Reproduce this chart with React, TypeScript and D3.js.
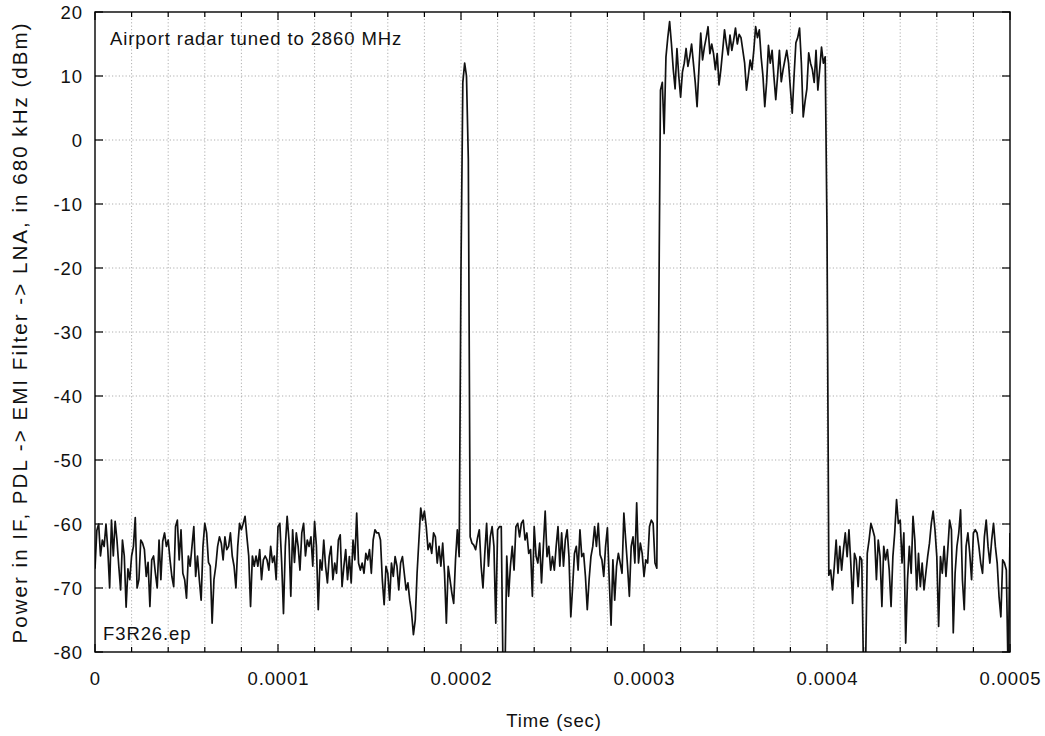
import React from "react";
import * as d3 from "d3";

// ---- data (dBm), one sample per microsecond ----
const SAMPLE_STEP = 1e-6;

const noiseBeforePulse = [
  -67, -61, -60, -65, -62.5, -63.5, -60, -64, -70, -59.4,
  -65, -59.6, -62.5, -66.6, -70.3, -62.5, -65, -73, -67, -68.7,
  -65, -63.5, -59, -70, -68.7, -62.5, -63, -64, -68.2, -66,
  -72.9, -65.6, -65, -67.7, -70, -62.5, -68.7, -62.7, -61.4, -63.5,
  -62.5, -65.6, -68.2, -69.8, -60.4, -59.4, -65.6, -60.9, -67.7, -68.7,
  -71.6, -65, -66.6, -63.5, -60.4, -68.2, -65, -68.7, -71.9, -63.5,
  -59.9, -61.4, -66, -66.6, -75.5, -68.7, -66.6, -63.5, -62, -63,
  -65.6, -62, -64, -63.5, -61.4, -65, -66.6, -70, -63.5, -59.9,
  -60.9, -59.9, -58.8, -62, -65, -72.9, -65, -66.6, -65, -66.6,
  -64, -68.7, -65.6, -65, -65.6, -67.2, -63.5, -66, -65, -68.7,
  -60.4, -59.9, -66, -74, -63.5, -58.8, -62.5, -71.3, -60.9, -66,
  -61.4, -63.5, -67.2, -61.4, -59.9, -65,
  -62.5, -63.5, -62, -66.6, -59.6, -63.5, -73.4, -65.6, -67.2, -62.5,
  -66.6, -69.2, -65.1, -63.5, -68.7, -66.1, -67.7, -62.5, -61.7, -69.8,
  -66.6, -64, -68.7, -65.1, -69.2, -62.5, -65.6, -58.3, -66.1, -67.2,
  -66.1, -67.7, -64.6, -65.6, -64, -67.7, -62.5, -60.9, -61.4, -61.4,
  -62.5, -68.7, -72.6, -66.6, -67.7, -71.9, -66.1, -68.2, -65.1, -66.6,
  -70.3, -66.1, -65.1, -67.7, -70.3, -69.2, -71.9, -73.9, -77.3, -75,
  -67.7, -62.5, -57.5, -59.4, -58, -60.4, -64, -63, -64.6, -61.4,
  -62, -66.1, -63.5, -66.6, -63, -67.7, -75.5, -66.6, -68.7, -70.8,
  -72.4, -65.6, -60.9, -65.1,
];

const shortPulse = [-20, 9, 12, 10, -3];

const noiseBetweenPulses = [
  -62,
  -63, -63.3, -64, -62.2, -60.9, -66.6, -70, -64.6, -59.9, -66.6,
  -62, -60.4, -63.5, -75.5, -60.9, -60.4, -60.4, -84, -84, -65,
  -71.3, -66.6, -63.5, -67.2, -60.4, -59.9, -62, -59.9, -59.4, -62.5,
  -61.4, -64.6, -64, -71.3, -60.4, -65, -66.1,
  -63, -69.2, -63.5, -58, -65.1, -63.5, -67.2, -65.1, -67.2, -63.5,
  -60.4, -66.6, -61.4, -66.6, -62.5, -60.9, -65.1, -74.5, -69.8, -64.6,
  -63.5, -67.2, -60.9, -65.1, -64.6, -68.2, -73.4, -68.7, -65.1, -63.5,
  -60.4, -63.5, -59.9, -64.8, -65.6, -68.2, -63.5, -60.6, -68.7, -75.8,
  -65.6, -71.9, -66.6, -64.6, -66.1, -67.7, -58.3, -62.5, -66.6, -71.3,
  -63.5, -62, -66.1, -56.7, -66.1, -63, -64.6, -68.2, -65.6, -66.1,
  -60.4, -59.4, -59.9, -66.1, -66.9,
];

const risingEdge = [-30, 7.8, 9, 1];

const longPulse = [
  13, 16, 18.5, 15, 11, 8, 14.3, 10, 6.7, 10.6,
  12, 14.3, 11.5, 13, 15, 12, 9, 5.2, 11, 16.7,
  12.5, 14.5, 16, 17.7, 13.5, 15, 13.5, 11, 13.5, 8.6,
  11, 14, 17.2, 15, 13.3, 16.4, 14, 15.6, 17.5, 15,
  16.5, 16, 14, 12, 7.8, 10, 12.5, 11, 14, 17.7,
  16, 17.2, 13, 10, 5.2, 9, 14.8, 12, 14, 9.9,
  6.3, 10, 14, 9.1, 11, 12.5, 14, 12, 8, 4.2,
  10, 15.2, 16, 17.5, 12, 3.6, 6, 8, 13.6, 12,
  11, 9, 14, 7.8, 11, 14.5, 12, 13,
];

const fallingEdge = [-14, -68];

const noiseAfterPulse = [
  -67.2, -70.3, -66.6, -62.5, -67.7, -63.5, -67.2, -64, -61.4, -65.1,
  -60.9, -66.1, -72.4, -64.6, -65.6, -69.8, -65.1, -65.6, -84, -84,
  -64.6, -62.5, -59.9, -60.9, -62, -68.7, -62.5, -65.1, -72.9, -63.5,
  -65.6, -64, -67.2, -72.9, -65.1, -61.4, -56.2, -59.9, -59.4, -66.1,
  -61.4, -78.6, -68.7, -63.5, -67.7, -58.8, -62.5, -70.3, -64.6, -69.8,
  -66.1, -70.3, -67.7, -65.1, -63, -59.9, -58, -60.9, -65.1, -76,
  -65.1, -67.7, -63.5, -68.2, -64, -59.4, -60.9, -77, -67.7, -63.5,
  -61.4, -57.8, -68.7, -73.4, -63.5, -61.4, -64.6, -68.7, -61.4, -60.9,
  -61.4, -63.5, -66.1, -67.7, -62, -59.4, -63.5, -66.1, -62.5, -59.9,
  -63.5, -66.1, -71.3, -74.5, -65.6, -66.1, -67.2, -84, -61.4,
];

const xTickLabels = ["0", "0.0001", "0.0002", "0.0003", "0.0004", "0.0005"];
const yTickValues = [20, 10, 0, -10, -20, -30, -40, -50, -60, -70, -80];

const TITLE = "Airport radar tuned to 2860 MHz";
const FILE_LABEL = "F3R26.ep";
const X_LABEL = "Time (sec)";
const Y_LABEL = "Power in IF, PDL -> EMI Filter -> LNA, in 680 kHz (dBm)";

const power = [
  ...noiseBeforePulse,
  ...shortPulse,
  ...noiseBetweenPulses,
  ...risingEdge,
  ...longPulse,
  ...fallingEdge,
  ...noiseAfterPulse,
];

const W = 1045;
const H = 736;
const M = { left: 95, right: 1010, top: 12, bottom: 652 };
const FONT = "'Liberation Sans', Arial, Helvetica, sans-serif";
const LS = 0.9;

export default function App() {
  const x = d3.scaleLinear().domain([0, 0.0005]).range([M.left, M.right]);
  const y = d3.scaleLinear().domain([-80, 20]).range([M.bottom, M.top]);

  const minorX = d3.range(0, 26).map((i) => i * 0.00002);
  const majorX = xTickLabels.map((s) => +s);

  const line = d3
    .line<number>()
    .x((_, i) => x(i * SAMPLE_STEP))
    .y((d) => y(d));

  return (
    <svg
      width={W}
      height={H}
      style={{ position: "absolute", left: 0, top: 0, background: "#fff" }}
      fontFamily={FONT}
    >
      <defs>
        <clipPath id="plotClip">
          <rect x={M.left} y={M.top} width={M.right - M.left} height={M.bottom - M.top} />
        </clipPath>
      </defs>
      <rect x={0} y={0} width={W} height={H} fill="#fff" />
      {/* grid */}
      <g stroke="#9a9a9a" strokeWidth={0.8} strokeDasharray="1.2,2.2">
        {minorX.slice(1, -1).map((t, i) => (
          <line key={"gx" + i} x1={x(t)} x2={x(t)} y1={M.top} y2={M.bottom} />
        ))}
        {yTickValues.slice(1, -1).map((v) => (
          <line key={"gy" + v} x1={M.left} x2={M.right} y1={y(v)} y2={y(v)} />
        ))}
      </g>
      {/* ticks */}
      <g stroke="#000" strokeWidth={1.2}>
        {minorX.map((t, i) => {
          const major = i % 5 === 0;
          const len = major ? 8 : 5;
          return (
            <g key={"tx" + i}>
              <line x1={x(t)} x2={x(t)} y1={M.bottom} y2={M.bottom - len} />
              <line x1={x(t)} x2={x(t)} y1={M.top} y2={M.top + len} />
            </g>
          );
        })}
        {yTickValues.map((v) => (
          <g key={"ty" + v}>
            <line x1={M.left} x2={M.left + 8} y1={y(v)} y2={y(v)} />
            <line x1={M.right} x2={M.right - 8} y1={y(v)} y2={y(v)} />
          </g>
        ))}
      </g>
      {/* data */}
      <path
        d={line(power) || ""}
        fill="none"
        stroke="#111"
        strokeWidth={1.7}
        strokeLinejoin="round"
        clipPath="url(#plotClip)"
      />
      {/* frame */}
      <rect
        x={M.left}
        y={M.top}
        width={M.right - M.left}
        height={M.bottom - M.top}
        fill="none"
        stroke="#000"
        strokeWidth={1.4}
      />
      {/* tick labels */}
      <g fontSize={18.5} fill="#111" letterSpacing={LS}>
        {yTickValues.map((v) => (
          <text key={"ly" + v} x={M.left - 12} y={y(v) + 6.5} textAnchor="end">
            {v}
          </text>
        ))}
        {xTickLabels.map((s, i) => (
          <text key={"lx" + i} x={x(majorX[i]) + LS / 2} y={685} textAnchor="middle">
            {s}
          </text>
        ))}
        <text x={554} y={727} textAnchor="middle">
          {X_LABEL}
        </text>
        <text x={110} y={45}>
          {TITLE}
        </text>
        <text x={103} y={640}>
          {FILE_LABEL}
        </text>
      </g>
      <text
        transform={`translate(27, 333.5) rotate(-90)`}
        textAnchor="middle"
        fontSize={20.5}
        fill="#111"
        textLength={620}
        lengthAdjust="spacing"
      >
        {Y_LABEL}
      </text>
    </svg>
  );
}
